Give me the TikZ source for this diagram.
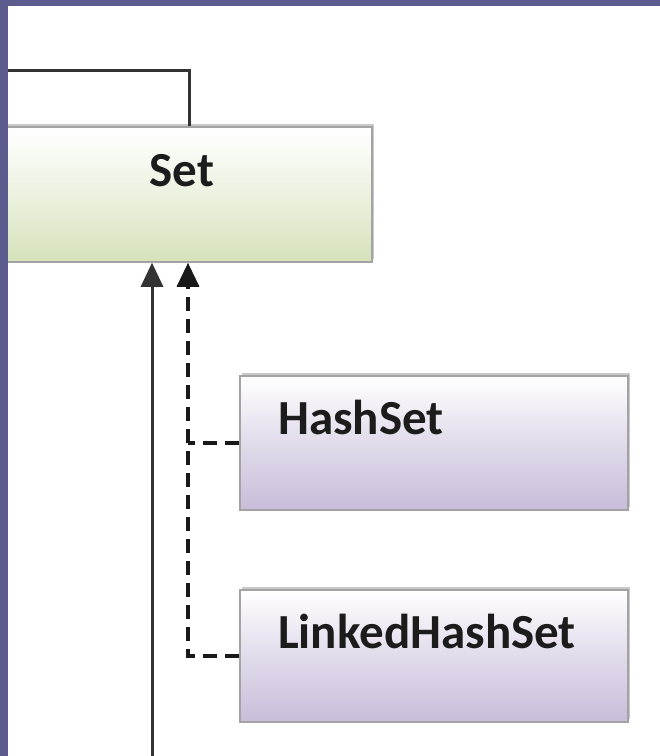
\documentclass[tikz,border=0pt]{standalone}
\usepackage{fontspec}
\setmainfont{Carlito}
\usetikzlibrary{arrows.meta,shadows}
\definecolor{framecol}{HTML}{5B5B8E}
\definecolor{greenbot}{HTML}{D5E2BA}
\definecolor{purplebot}{HTML}{C9BDDA}
\definecolor{boxline}{HTML}{A3A3A3}
\definecolor{inkcol}{HTML}{1C1C1C}
\tikzset{
  classbox/.style={draw=boxline, line width=1.5pt, inner sep=0pt,
    drop shadow={shadow xshift=2pt, shadow yshift=3pt, opacity=0.35, fill=black!60}},
  setbox/.style={classbox, top color=white, bottom color=greenbot, middle color=white!55!greenbot},
  implbox/.style={classbox, top color=white, bottom color=purplebot, middle color=white!45!purplebot},
  lbl/.style={font=\bfseries\fontsize{49}{56}\selectfont, text=inkcol, inner sep=0pt},
  solidlink/.style={draw=black!80, line width=3pt},
  dashlink/.style={draw=black!90, line width=3.5pt, dash pattern=on 14pt off 8pt},
  headtip/.style={-{Triangle[width=22pt,length=24pt]}}
}
\begin{document}
\begin{tikzpicture}[x=1pt,y=-1pt]
\useasboundingbox (0,0) rectangle (660,756);
\fill[white] (0,0) rectangle (660,756);

% class boxes
\node[setbox, minimum width=380pt, minimum height=135pt] (set) at (182,194.5) {};
\node[implbox, minimum width=388pt, minimum height=134pt] (hash) at (434,443) {};
\node[implbox, minimum width=388pt, minimum height=132pt] (linked) at (434,656) {};

% class names
\node[lbl, anchor=base] (setlbl) at (182,186) {Set};
\node[lbl, anchor=base west] (hashlbl) at (278,434) {HashSet};
\node[lbl, anchor=base west] (linkedlbl) at (278,648) {LinkedHashSet};

% junction points
\coordinate (topstart) at (0,70);
\coordinate (tj) at (189,70);
\coordinate (dj) at (188,0);
\coordinate (sj) at (152,756);

% link from above into Set
\draw[solidlink] (topstart) -- (tj) -- (tj |- set.north);

% inheritance arrow from below
\draw[solidlink, headtip] (sj) -- (sj |- set.south);

% implementation arrows (dashed)
\draw[dashlink, headtip] (linked.west) -| (dj |- set.south);
\draw[dashlink] (hash.west) -- (hash.west -| dj);

% frame
\fill[framecol] (0,0) rectangle (8,756);
\fill[framecol] (0,0) rectangle (660,6);
\end{tikzpicture}
\end{document}
